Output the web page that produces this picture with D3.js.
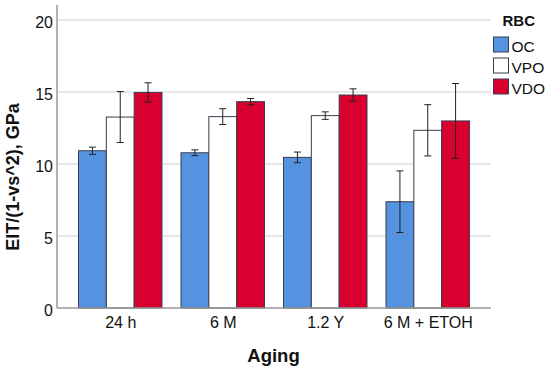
<!DOCTYPE html>
<html>
<head>
<meta charset="utf-8">
<script src="https://cdn.jsdelivr.net/npm/d3@7"></script>
<style>
  body { margin: 0; background: #fff; }
  text { font-family: Arial, "Liberation Sans", sans-serif; }
</style>
</head>
<body>
<div id="chart"></div>
<script>
// chart values
const agingGroups = ['24 h', '6 M', '1.2 Y', '6 M + ETOH'];
const rbcSeries = ['OC', 'VPO', 'VDO'];
const ocMeans = [10.92, 10.78, 10.46, 7.38];
const ocErr = [0.25, 0.2, 0.37, 2.14];
const vpoMeans = [13.26, 13.29, 13.36, 12.34];
const vpoErr = [1.77, 0.55, 0.26, 1.78];
const vdoMeans = [14.97, 14.33, 14.79, 12.99];
const vdoErr = [0.67, 0.22, 0.43, 2.6];
const yTicks = [0, 5, 10, 15, 20];

const seriesColors = { OC: '#5593e1', VPO: '#ffffff', VDO: '#d7002f' };

const width = 550, height = 371;
const plot = { left: 57, right: 491, top: 5, bottom: 308 };

const svg = d3.select('#chart')
  .append('svg')
  .attr('width', width)
  .attr('height', height)
  .attr('style', 'background-color:white');

const yScale = d3.scaleLinear().domain([0, 20]).range([plot.bottom, 20]);

// groups on a point scale, bars inside each group on a band scale
const xGroup = d3.scalePoint().domain(agingGroups).range([plot.left, plot.right]).padding(0.617);
const groupWidth = 83.5;
const xBar = d3.scaleBand().domain(rbcSeries).range([-groupWidth / 2, groupWidth / 2]);

// gridlines
svg.append('g')
  .selectAll('line')
  .data(yTicks.filter(d => d > 0))
  .enter()
  .append('line')
  .attr('x1', plot.left)
  .attr('x2', plot.right)
  .attr('y1', d => yScale(d))
  .attr('y2', d => yScale(d))
  .attr('stroke', '#d0d0d0')
  .attr('stroke-width', 1);

// y axis
const yAxis = svg.append('g')
  .attr('transform', 'translate(' + plot.left + ',0)')
  .call(d3.axisLeft(yScale).tickValues(yTicks).tickSize(0).tickPadding(4));
yAxis.select('.domain').remove();
yAxis.selectAll('text')
  .attr('font-size', 16)
  .attr('dy', '0.45em')
  .attr('fill', '#111')
  .style('font-family', 'Arial, "Liberation Sans", sans-serif');

// x axis labels
const xAxis = svg.append('g')
  .attr('transform', 'translate(0,' + plot.bottom + ')')
  .call(d3.axisBottom(xGroup).tickSize(0).tickPadding(9));
xAxis.select('.domain').remove();
xAxis.selectAll('text')
  .attr('font-size', 16)
  .attr('fill', '#111')
  .style('font-family', 'Arial, "Liberation Sans", sans-serif');

// bars
const seriesData = [
  { key: 'OC', means: ocMeans, errs: ocErr },
  { key: 'VPO', means: vpoMeans, errs: vpoErr },
  { key: 'VDO', means: vdoMeans, errs: vdoErr },
];
const barData = [];
seriesData.forEach(s => {
  agingGroups.forEach((g, i) => {
    barData.push({ group: g, key: s.key, mean: s.means[i], err: s.errs[i] });
  });
});

svg.append('g')
  .selectAll('rect')
  .data(barData)
  .enter()
  .append('rect')
  .attr('x', d => xGroup(d.group) + xBar(d.key))
  .attr('y', d => yScale(d.mean))
  .attr('width', xBar.bandwidth())
  .attr('height', d => yScale(0) - yScale(d.mean))
  .attr('fill', d => seriesColors[d.key])
  .attr('stroke', '#3c3c50')
  .attr('stroke-width', 1);

// axis lines drawn over the bars
svg.append('line')
  .attr('x1', plot.left).attr('x2', plot.right)
  .attr('y1', plot.bottom).attr('y2', plot.bottom)
  .attr('stroke', '#999').attr('stroke-width', 1.5);
svg.append('line')
  .attr('x1', plot.left).attr('x2', plot.left)
  .attr('y1', plot.top).attr('y2', plot.bottom)
  .attr('stroke', '#999').attr('stroke-width', 1.5);

// error bars
const errG = svg.append('g').attr('stroke', '#222').attr('stroke-width', 1);
barData.forEach(d => {
  const cx = xGroup(d.group) + xBar(d.key) + xBar.bandwidth() / 2;
  const yTop = yScale(d.mean + d.err);
  const yBot = yScale(d.mean - d.err);
  errG.append('line').attr('x1', cx).attr('x2', cx).attr('y1', yTop).attr('y2', yBot);
  errG.append('line').attr('x1', cx - 3.5).attr('x2', cx + 3.5).attr('y1', yTop).attr('y2', yTop);
  errG.append('line').attr('x1', cx - 3.5).attr('x2', cx + 3.5).attr('y1', yBot).attr('y2', yBot);
});

// axis titles
svg.append('text')
  .attr('transform', 'translate(19,177) rotate(-90)')
  .attr('text-anchor', 'middle')
  .attr('font-size', 18)
  .attr('font-weight', 'bold')
  .attr('fill', '#111')
  .text('EIT/(1-vs^2), GPa');

svg.append('text')
  .attr('x', 273.5)
  .attr('y', 362)
  .attr('text-anchor', 'middle')
  .attr('font-size', 18.5)
  .attr('font-weight', 'bold')
  .attr('fill', '#111')
  .text('Aging');

// legend
const legend = svg.append('g');
legend.append('text')
  .attr('x', 502.5)
  .attr('y', 25.5)
  .attr('font-size', 15)
  .attr('font-weight', 'bold')
  .attr('fill', '#111')
  .text('RBC');
const legendItems = legend.selectAll('g.item')
  .data(rbcSeries)
  .enter()
  .append('g')
  .attr('class', 'item')
  .attr('transform', (d, i) => 'translate(493.5,' + (37 + i * 21) + ')');
legendItems.append('rect')
  .attr('width', 15)
  .attr('height', 15)
  .attr('fill', d => seriesColors[d])
  .attr('stroke', '#3c3c50')
  .attr('stroke-width', 1);
legendItems.append('text')
  .attr('x', 18)
  .attr('y', 15)
  .attr('font-size', 15.5)
  .attr('fill', '#111')
  .text(d => d);
</script>
</body>
</html>
